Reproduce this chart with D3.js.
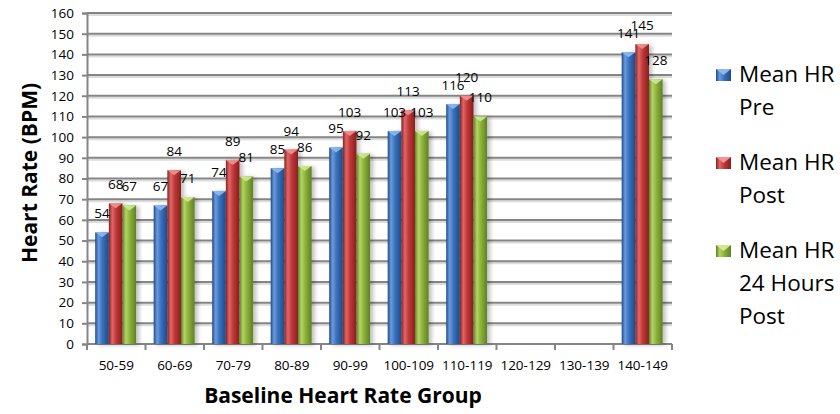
<!DOCTYPE html>
<html>
<head>
<meta charset="utf-8">
<script src="https://cdn.jsdelivr.net/npm/d3@7"></script>
<style>
  html, body { margin: 0; padding: 0; background: #fff; }
  svg { display: block; font-family: "Open Sans", "DejaVu Sans", sans-serif; }
</style>
</head>
<body>
<svg id="chart" width="840" height="414"></svg>
<script>
// ---- data ----
const categories = ["50-59","60-69","70-79","80-89","90-99","100-109","110-119","120-129","130-139","140-149"];
const seriesNames = ["Mean HR Pre","Mean HR Post","Mean HR 24 Hours Post"];
const legendLines = [["Mean HR","Pre"],["Mean HR","Post"],["Mean HR","24 Hours","Post"]];
const meanPre    = [54, 67, 74, 85, 95, 103, 116, null, null, 141];
const meanPost   = [68, 84, 89, 94, 103, 113, 120, null, null, 145];
const mean24Post = [67, 71, 81, 86, 92, 103, 110, null, null, 128];
const yTicks = [0,10,20,30,40,50,60,70,80,90,100,110,120,130,140,150,160];

const seriesValues = [meanPre, meanPost, mean24Post];
const colors = [
  {dark:"#1f4b88", mid:"#376fbb", light:"#6a9bde", cap:"#8fb9ee"},
  {dark:"#862020", mid:"#bf3636", light:"#e06767", cap:"#f09393"},
  {dark:"#5f8027", mid:"#8bb139", light:"#b3d464", cap:"#d2e890"}
];

const svg = d3.select("#chart");
const pLeft = 87, pRight = 672, pTop = 13, pBottom = 344;

const x0 = d3.scaleBand().domain(categories).range([pLeft, pRight]).padding(0);
const x1 = d3.scaleBand().domain(d3.range(seriesNames.length))
  .range([x0.bandwidth() * 0.14, x0.bandwidth() * 0.84]).padding(0);
const y = d3.scaleLinear().domain([0, 160]).range([pBottom, pTop]);

// defs
const defs = svg.append("defs");
colors.forEach((c, i) => {
  const g = defs.append("linearGradient").attr("id", "g" + i).attr("x1", "0%").attr("x2", "100%").attr("y1", "0%").attr("y2", "0%");
  g.append("stop").attr("offset", "0%").attr("stop-color", c.dark);
  g.append("stop").attr("offset", "25%").attr("stop-color", c.light);
  g.append("stop").attr("offset", "55%").attr("stop-color", c.mid);
  g.append("stop").attr("offset", "100%").attr("stop-color", c.dark);
});
const f = defs.append("filter").attr("id", "sh").attr("x", "-30%").attr("y", "-10%").attr("width", "180%").attr("height", "130%");
f.append("feDropShadow").attr("dx", 3).attr("dy", 1).attr("stdDeviation", 2).attr("flood-color", "#000").attr("flood-opacity", 0.25);

// gridlines
const grid = svg.append("g");
grid.selectAll("line.sh").data(yTicks.filter(t => t > 0)).join("line").attr("class", "sh")
  .attr("x1", pLeft).attr("x2", pRight)
  .attr("y1", d => y(d) + 2).attr("y2", d => y(d) + 2)
  .attr("stroke", "#dcdcdc").attr("stroke-width", 2);
grid.selectAll("line.gl").data(yTicks.filter(t => t > 0)).join("line").attr("class", "gl")
  .attr("x1", pLeft).attr("x2", pRight)
  .attr("y1", d => y(d)).attr("y2", d => y(d))
  .attr("stroke", "#858585").attr("stroke-width", 2);

// y axis
const yAxis = d3.axisLeft(y).tickValues(yTicks).tickSize(5).tickPadding(8);
const ya = svg.append("g").attr("transform", `translate(${pLeft},0)`).call(yAxis);
ya.select(".domain").attr("stroke", "#858585").attr("stroke-width", 2);
ya.selectAll(".tick line").attr("stroke", "#858585").attr("stroke-width", 2);
ya.selectAll(".tick text").attr("font-size", 13.5).attr("fill", "#000").attr("font-family", "Open Sans");

// x axis
const xa = svg.append("g").attr("transform", `translate(0,${pBottom})`);
xa.append("line").attr("x1", pLeft).attr("x2", pRight).attr("y1", 0).attr("y2", 0)
  .attr("stroke", "#858585").attr("stroke-width", 2);
const boundaries = categories.map(c => x0(c)).concat([pRight]);
xa.selectAll("line.t").data(boundaries).join("line").attr("class", "t")
  .attr("x1", d => d).attr("x2", d => d).attr("y1", 0).attr("y2", 6)
  .attr("stroke", "#858585").attr("stroke-width", 2);
xa.selectAll("text").data(categories).join("text")
  .attr("x", d => x0(d) + x0.bandwidth() / 2).attr("y", 26)
  .attr("text-anchor", "middle").attr("font-size", 13.5).text(d => d);

// bars
const flat = [];
categories.forEach((c, ci) => seriesValues.forEach((vals, si) => {
  if (vals[ci] != null) flat.push({c, si, v: vals[ci]});
}));
const barLayer = svg.append("g");
const labelLayer = svg.append("g");
const bx = d => x0(d.c) + x1(d.si);
barLayer.selectAll("rect").data(flat).join("rect")
  .attr("x", bx).attr("width", x1.bandwidth())
  .attr("y", d => y(d.v)).attr("height", d => pBottom - y(d.v))
  .attr("fill", d => `url(#g${d.si})`).attr("filter", "url(#sh)");
barLayer.selectAll("path").data(flat).join("path")
  .attr("d", d => {
    const x = bx(d), w = x1.bandwidth(), yt = y(d.v);
    return `M${x},${yt} L${x + w},${yt} L${x + w * 0.5},${yt + 5} Z`;
  })
  .attr("fill", d => colors[d.si].cap).attr("opacity", 0.9);
labelLayer.selectAll("text").data(flat).join("text")
  .attr("x", d => bx(d) + x1.bandwidth() / 2)
  .attr("y", d => y(d.v) - 14)
  .attr("text-anchor", "middle").attr("font-size", 13.5).text(d => d.v);

// axis titles
svg.append("text").attr("transform", "translate(37,173) rotate(-90)")
  .attr("text-anchor", "middle").attr("font-size", 21).attr("font-weight", "bold").text("Heart Rate (BPM)");
svg.append("text").attr("x", 343).attr("y", 403)
  .attr("text-anchor", "middle").attr("font-size", 21).attr("font-weight", "bold").text("Baseline Heart Rate Group");

// legend
const legendY = [[82, 115], [170, 203], [258, 291, 324]];
const lg = svg.append("g");
seriesNames.forEach((s, i) => {
  const yy = legendY[i][0];
  lg.append("rect").attr("x", 716).attr("y", yy - 13).attr("width", 15).attr("height", 12)
    .attr("fill", `url(#g${i})`);
  lg.append("path").attr("d", `M716,${yy - 13} L731,${yy - 13} L723.5,${yy - 7} Z`).attr("fill", colors[i].cap);
  legendLines[i].forEach((t, j) => {
    lg.append("text").attr("x", 739).attr("y", legendY[i][j]).attr("font-size", 22.5).text(t);
  });
});
</script>
</body>
</html>
